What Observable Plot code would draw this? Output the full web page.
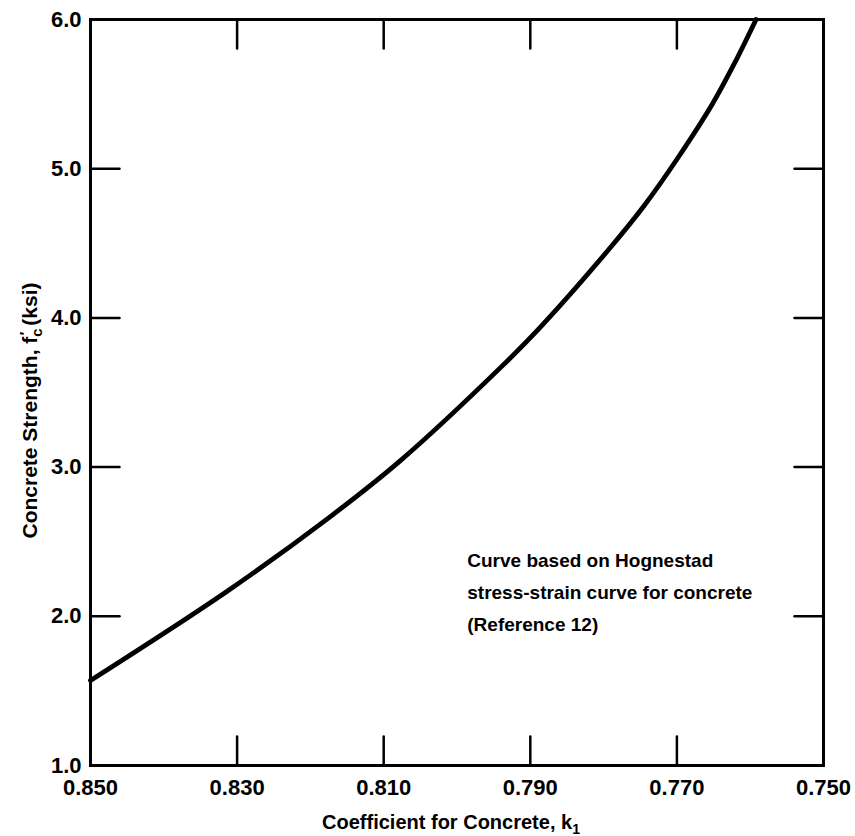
<!DOCTYPE html>
<html><head><meta charset="utf-8">
<script src="https://cdn.jsdelivr.net/npm/d3@7"></script>
<script src="https://cdn.jsdelivr.net/npm/@observablehq/plot@0.6"></script>
<style>
html,body{margin:0;padding:0;background:#fff;}
</style></head><body><div id="chart"></div>
<script>
// Curve (k1 vs f'c)
const k1 = [0.850, 0.8313, 0.8175, 0.8078, 0.7940, 0.7884, 0.7791, 0.7745, 0.7699, 0.7652, 0.7620, 0.7592];
const fc = [1.57, 2.17, 2.66, 3.04, 3.67, 3.95, 4.47, 4.75, 5.07, 5.43, 5.72, 6.0];
// axis ticks
const xTicks = [0.850, 0.830, 0.810, 0.790, 0.770, 0.750];
const yTicks = [1, 2, 3, 4, 5, 6];
const xInnerTicks = [0.830, 0.810, 0.790, 0.770];
const yInnerTicks = [2, 3, 4, 5];
// texts
const xTitle = "Coefficient for Concrete, k1";
const yTitle = "Concrete Strength, fc (ksi)";
const noteLines = ["Curve based on Hognestad", "stress-strain curve for concrete", "(Reference 12)"];
const notePos = [{k: 0.7986, fc: 2.185}];

const curveData = k1.map((k, i) => ({k, fc: fc[i]}));
const up = {draw(c, l) { c.moveTo(0, 0); c.lineTo(0, -l); }};
const down = {draw(c, l) { c.moveTo(0, 0); c.lineTo(0, l); }};
const right = {draw(c, l) { c.moveTo(0, 0); c.lineTo(l, 0); }};
const left = {draw(c, l) { c.moveTo(0, 0); c.lineTo(-l, 0); }};
const TL = 29;

const svg = Plot.plot({
  width: 855,
  height: 836,
  marginLeft: 90,
  marginRight: 32,
  marginTop: 19,
  marginBottom: 71,
  style: {fontFamily: "'Liberation Sans', Arial, Helvetica, sans-serif", fontWeight: "bold", color: "#000", background: "#fff"},
  x: {domain: [0.850, 0.750]},
  y: {domain: [1, 6]},
  marks: [
    Plot.axisX(xTicks, {anchor: "bottom", tickSize: 0, tickPadding: 14, tickFormat: d3.format(".3f"), fontSize: 22, label: null}),
    Plot.axisY(yTicks, {anchor: "left", tickSize: 0, tickPadding: 9, tickFormat: d3.format(".1f"), fontSize: 22, label: null}),
    Plot.vector(xInnerTicks, {x: d => d, frameAnchor: "bottom", length: TL, anchor: "start", shape: up, strokeWidth: 2.5}),
    Plot.vector(xInnerTicks, {x: d => d, frameAnchor: "top", length: TL, anchor: "start", shape: down, strokeWidth: 2.5}),
    Plot.vector(yInnerTicks, {y: d => d, frameAnchor: "left", length: TL, anchor: "start", shape: right, strokeWidth: 2.5}),
    Plot.vector(yInnerTicks, {y: d => d, frameAnchor: "right", length: TL, anchor: "start", shape: left, strokeWidth: 2.5}),
    Plot.frame({stroke: "#000", strokeWidth: 3}),
    Plot.line(curveData, {x: "k", y: "fc", curve: "catmull-rom", stroke: "#000", strokeWidth: 4.8}),
    Plot.text(notePos, {x: "k", y: "fc", text: () => noteLines.join("\n"), textAnchor: "start", lineAnchor: "middle", lineHeight: 1.68, fontSize: 19}),
    Plot.text([xTitle], {frameAnchor: "bottom", textAnchor: "middle", dx: -6, dy: 57, fontSize: 20, lineAnchor: "middle", className: "xtitle"}),
    Plot.text([yTitle], {frameAnchor: "left", textAnchor: "middle", rotate: -90, dx: -60, dy: 18, fontSize: 21, lineAnchor: "middle", className: "ytitle"})
  ]
});
document.getElementById("chart").appendChild(svg);

// subscripts / prime in the axis titles
d3.select(svg).selectAll(".xtitle text").each(function() {
  const t = d3.select(this);
  t.text("Coefficient for Concrete, k");
  t.append("tspan").attr("dy", 5).attr("font-size", 14).text("1");
});
d3.select(svg).selectAll(".ytitle text").each(function() {
  const t = d3.select(this);
  t.text("Concrete Strength, f");
  t.append("tspan").attr("dy", 5).attr("font-size", 15).text("c");
  t.append("tspan").attr("dx", -7).attr("dy", -12).attr("font-size", 15).text("\u2032");
  t.append("tspan").attr("dx", 6).attr("dy", 7).text("(ksi)");
});
</script></body></html>
